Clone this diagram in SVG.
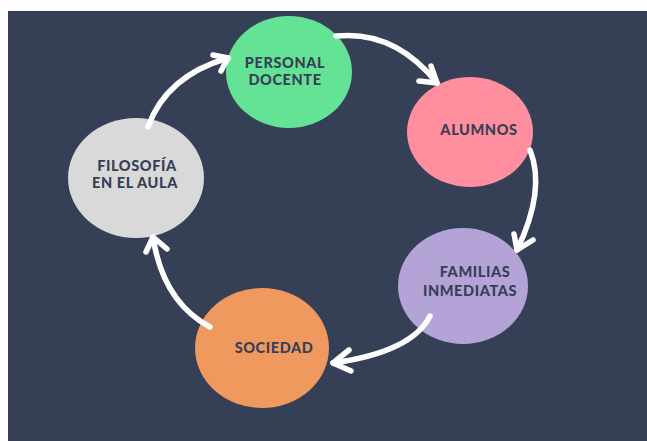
<svg xmlns="http://www.w3.org/2000/svg" width="647" height="441" viewBox="0 0 647 441">
<defs>
<style>
.lbl{font-family:Lato,"Open Sans","DejaVu Sans",sans-serif;font-weight:900;font-size:14.5px;fill:#363f55;text-anchor:middle;letter-spacing:0.6px}
.arr{fill:none;stroke:#ffffff;stroke-width:5.5;stroke-linecap:round;stroke-linejoin:round}
</style>
</defs>
<rect x="0" y="0" width="647" height="441" fill="#ffffff"/>
<rect x="8" y="11" width="639" height="430" fill="#353f55"/>
<g id="personal-docente">
<ellipse cx="289" cy="72" rx="63" ry="56" fill="#64e295"/>
<text class="lbl" x="285" y="68">PERSONAL</text>
<text class="lbl" x="285" y="85">DOCENTE</text>
</g>
<g id="alumnos">
<ellipse cx="470" cy="132" rx="63" ry="55" fill="#ff8e9e"/>
<text class="lbl" x="479" y="135">ALUMNOS</text>
</g>
<g id="familias">
<ellipse cx="463" cy="286" rx="65" ry="58" fill="#b4a3d6"/>
<text class="lbl" x="475" y="277">FAMILIAS</text>
<text class="lbl" x="470" y="296">INMEDIATAS</text>
</g>
<g id="sociedad">
<ellipse cx="262" cy="348" rx="67" ry="60" fill="#f0995f"/>
<text class="lbl" x="274" y="353">SOCIEDAD</text>
</g>
<g id="filosofia">
<ellipse cx="136" cy="178" rx="68" ry="60" fill="#d9d9d9"/>
<text class="lbl" x="137" y="171">FILOSOFÍA</text>
<text class="lbl" x="135" y="188">EN EL AULA</text>
</g>
<g id="connectors">
<path class="arr" d="M336,36 Q395,30 437,83"/>
<path class="arr" d="M419,81 L437,83 L431,66"/>
<path class="arr" d="M530,150 Q546,190 517,250"/>
<path class="arr" d="M514,234 L517,250 L533,240"/>
<path class="arr" d="M430,316 Q412,352 333,363"/>
<path class="arr" d="M349,350 L333,363 L351,371"/>
<path class="arr" d="M210,327 Q163,302 153,237"/>
<path class="arr" d="M146,252 L153,237 L167,249"/>
<path class="arr" d="M148,127 Q166,76 228,58"/>
<path class="arr" d="M213,55 L228,58 L221,71"/>
</g>
</svg>
